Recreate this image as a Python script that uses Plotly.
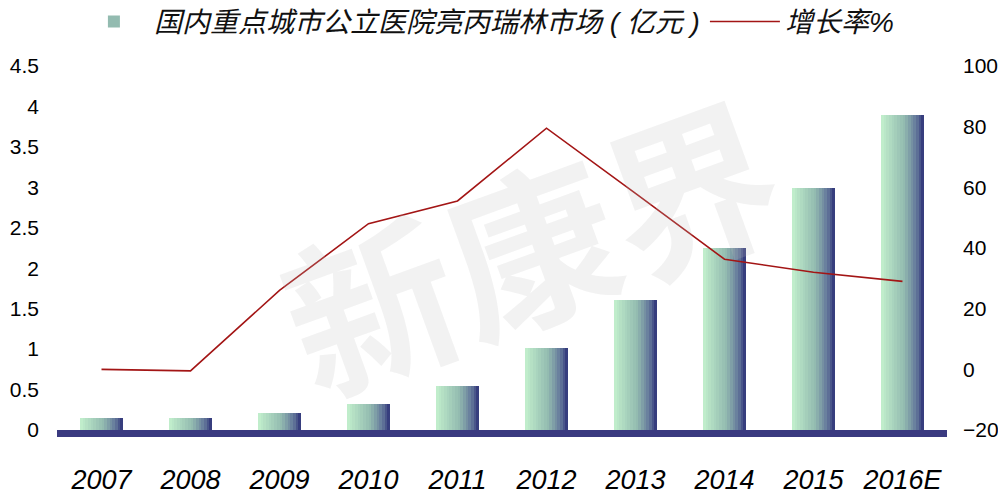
import plotly.graph_objects as go

years = ["2007", "2008", "2009", "2010", "2011", "2012", "2013", "2014", "2015", "2016E"]
market = [0.15, 0.15, 0.21, 0.32, 0.54, 1.01, 1.61, 2.25, 2.99, 3.89]
growth = [0.0, -0.5, 26, 48, 55.5, 79.5, 58, 36.3, 32, 29]
left_ticks = [0, 0.5, 1, 1.5, 2, 2.5, 3, 3.5, 4, 4.5]
right_ticks = [-20, 0, 20, 40, 60, 80, 100]
bar_name = "国内重点城市公立医院亮丙瑞林市场 ( 亿元 )"
line_name = "增长率%"
watermark = "新康界"

FONT = "Liberation Sans, Arial, Noto Sans CJK SC, sans-serif"

def lerp(c1, c2, t):
    return "rgb(%d,%d,%d)" % tuple(round(a + (b - a) * t) for a, b in zip(c1, c2))

stops = [(0.0, (195, 240, 205)), (0.55, (145, 185, 175)), (0.82, (100, 120, 155)), (1.0, (45, 50, 120))]

def grad(t):
    for (t0, c0), (t1, c1) in zip(stops[:-1], stops[1:]):
        if t <= t1:
            return lerp(c0, c1, (t - t0) / (t1 - t0))
    return lerp(stops[-1][1], stops[-1][1], 0)

fig = go.Figure()
N = 16
bw = 0.48
for i in range(N):
    t = (i + 0.5) / N
    fig.add_trace(go.Bar(
        x=years, y=market, width=bw / N + 0.004, offset=-bw / 2 + i * bw / N,
        marker=dict(color=grad(t), line=dict(width=0)),
        name=bar_name, showlegend=(i == N // 2), legendgroup="bar",
        hoverinfo="skip" if i != N // 2 else None,
    ))

fig.add_trace(go.Scatter(
    x=years, y=growth, yaxis="y2", mode="lines", name=line_name,
    line=dict(color="#a31515", width=1.6),
))

# page has an 8px body margin, so figure is 998x495 placed at (8,8)
fig.update_layout(
    width=998, height=495,
    margin=dict(l=49, r=59, t=58, b=73, autoexpand=False),
    paper_bgcolor="white", plot_bgcolor="white",
    barmode="overlay", bargap=0,
    font=dict(family=FONT, color="black"),
    showlegend=True,
    legend=dict(orientation="h", x=0.019, xanchor="left", y=0.972, yanchor="middle",
                yref="container", font=dict(size=28, style="italic", color="#111"),
                bgcolor="rgba(0,0,0,0)", itemwidth=70),
    xaxis=dict(type="category", showline=True, linecolor="#3a3a80", linewidth=7,
               ticks="", tickfont=dict(size=27, style="italic"), ticklabelstandoff=20,
               showgrid=False, zeroline=False, automargin=False),
    yaxis=dict(range=[0, 4.5], tickvals=left_ticks, ticktext=[f"{v:g}" for v in left_ticks],
               showgrid=False, zeroline=False, showline=False, ticks="",
               tickfont=dict(size=21), ticklabelstandoff=17, automargin=False),
    yaxis2=dict(range=[-20, 100], tickvals=right_ticks, overlaying="y", side="right",
                showgrid=False, zeroline=False, showline=False, ticks="",
                tickfont=dict(size=21), ticklabelstandoff=15, automargin=False),
    annotations=[dict(text=watermark, xref="paper", yref="paper", x=0.53, y=0.52,
                      showarrow=False, textangle=-20,
                      font=dict(size=170, color="rgba(190,190,190,0.20)",
                                family="Noto Sans CJK SC", weight="bold"))],
)

fig.write_html("out.html")
